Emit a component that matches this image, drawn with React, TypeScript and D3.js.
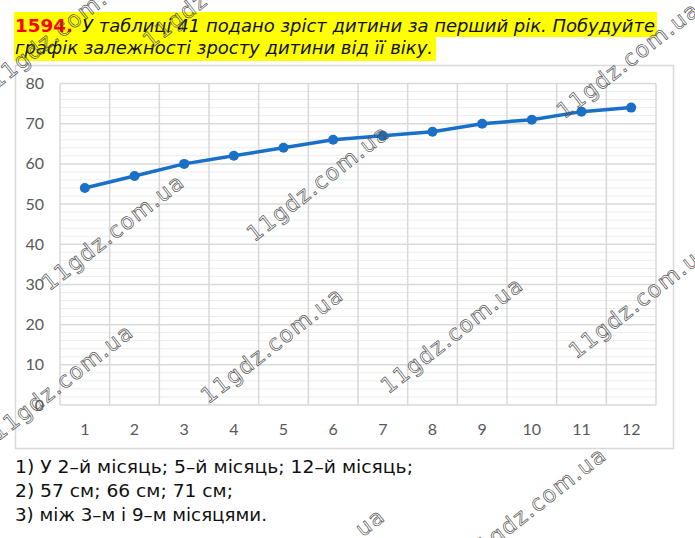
import React from "react";
import * as d3 from "d3";

const months = [1, 2, 3, 4, 5, 6, 7, 8, 9, 10, 11, 12];
const heights = [54, 57, 60, 62, 64, 66, 67, 68, 70, 71, 73, 74];
const yTicks = [0, 10, 20, 30, 40, 50, 60, 70, 80];
const headerLine1Num = "1594.";
const headerLine1 = "У таблиці 41 подано зріст дитини за перший рік. Побудуйте";
const headerLine2 = "графік залежності зросту дитини від її віку.";
const answers = [
  "1) У 2–й місяць; 5–й місяць; 12–й місяць;",
  "2) 57 см; 66 см; 71 см;",
  "3) між 3–м і 9–м місяцями.",
];
const answerWidths = [398, 218, 252];
const watermarks = [
  { x: 113, y: 232, t: "11gdz.com.ua" },
  { x: 318, y: 183, t: "11gdz.com.ua" },
  { x: 272, y: 345, t: "11gdz.com.ua" },
  { x: 62, y: 382, t: "11gdz.com.ua" },
  { x: 452, y: 335, t: "11gdz.com.ua" },
  { x: 640, y: 300, t: "11gdz.com.ua" },
  { x: 628, y: 60, t: "11gdz.com.ua" },
  { x: 535, y: 505, t: "11gdz.com.ua" },
  { x: 60, y: 30, t: "11gdz.com.ua" },
  { x: 175, y: 20, t: "11gdz" },
  { x: 370, y: 522, t: "ua" },
];

export default function App() {
  const W = 695, H = 538;
  const left = 60, right = 656, top = 83.5, bottom = 405;
  const x = d3.scaleBand<number>().domain(months).range([left, right]);
  const y = d3.scaleLinear().domain([0, 80]).range([bottom, top]);
  const minor = d3.range(0, 81, 2).filter((v) => v % 10 !== 0);
  const line = d3
    .line<number>()
    .x((_, i) => (x(months[i]) as number) + x.bandwidth() / 2)
    .y((d) => y(d));
  const boundaries = months.map((m) => x(m) as number).concat([right]);
  const font = "'DejaVu Sans', Verdana, sans-serif";
  const axisFont = "Lato, 'Open Sans', sans-serif";

  return (
    <svg width={W} height={H} style={{ position: "absolute", left: 0, top: 0 }}>
      <rect x={0} y={0} width={W} height={H} fill="#fff" />
      {/* header highlight */}
      <rect x={14} y={12} width={643} height={25} fill="#ffff00" />
      <rect x={14} y={37} width={422} height={24} fill="#ffff00" />
      <text x={15} y={32} fontFamily={font} fontSize={18.5} fill="#ff0000" fontWeight="bold" textLength={58} lengthAdjust="spacingAndGlyphs">
        {headerLine1Num}
      </text>
      <text x={82} y={32} fontFamily={font} fontSize={18.5} fontStyle="italic" fill="#111" textLength={573} lengthAdjust="spacingAndGlyphs">
        {headerLine1}
      </text>
      <text x={15} y={54} fontFamily={font} fontSize={18.5} fontStyle="italic" fill="#111" textLength={418} lengthAdjust="spacingAndGlyphs">
        {headerLine2}
      </text>
      {/* chart frame */}
      <rect x={15.5} y={65.5} width={658} height={383} fill="#fff" stroke="#d9d9d9" strokeWidth={1.5} />
      {minor.map((v) => (
        <line key={"m" + v} x1={left} x2={right} y1={y(v)} y2={y(v)} stroke="#ececec" strokeWidth={1} />
      ))}
      {yTicks.map((v) => (
        <line key={"g" + v} x1={left} x2={right} y1={y(v)} y2={y(v)} stroke="#d9d9d9" strokeWidth={1.5} />
      ))}
      {boundaries.map((b, i) => (
        <line key={"v" + i} x1={b} x2={b} y1={top} y2={bottom} stroke="#d9d9d9" strokeWidth={1.5} />
      ))}
      {yTicks.map((v) => (
        <text key={"yt" + v} x={44} y={y(v)} dy="0.35em" textAnchor="end" fontFamily={axisFont} fontSize={16} fill="#595959">
          {v}
        </text>
      ))}
      {months.map((m) => (
        <text key={"xt" + m} x={(x(m) as number) + x.bandwidth() / 2} y={429} dy="0.35em" textAnchor="middle" fontFamily={axisFont} fontSize={16} fill="#595959">
          {m}
        </text>
      ))}
      <path d={line(heights) || ""} fill="none" stroke="#1a6fc6" strokeWidth={3.5} strokeLinejoin="round" />
      {heights.map((h, i) => (
        <circle key={"p" + i} cx={(x(months[i]) as number) + x.bandwidth() / 2} cy={y(h)} r={5} fill="#1a6fc6" />
      ))}
      {answers.map((a, i) => (
        <text key={"a" + i} x={15} y={473 + i * 24} fontFamily={font} fontSize={17} fill="#111" textLength={answerWidths[i]} lengthAdjust="spacingAndGlyphs">
          {a}
        </text>
      ))}
      {watermarks.map((w, i) => (
        <text
          key={"w" + i}
          x={w.x}
          y={w.y}
          transform={`rotate(-38 ${w.x} ${w.y})`}
          textAnchor="middle"
          dy="0.35em"
          fontFamily={font}
          fontSize={22}
          letterSpacing={1.5}
          fill="none"
          stroke="#555"
          strokeWidth={0.7}
        >
          {w.t}
        </text>
      ))}
    </svg>
  );
}
